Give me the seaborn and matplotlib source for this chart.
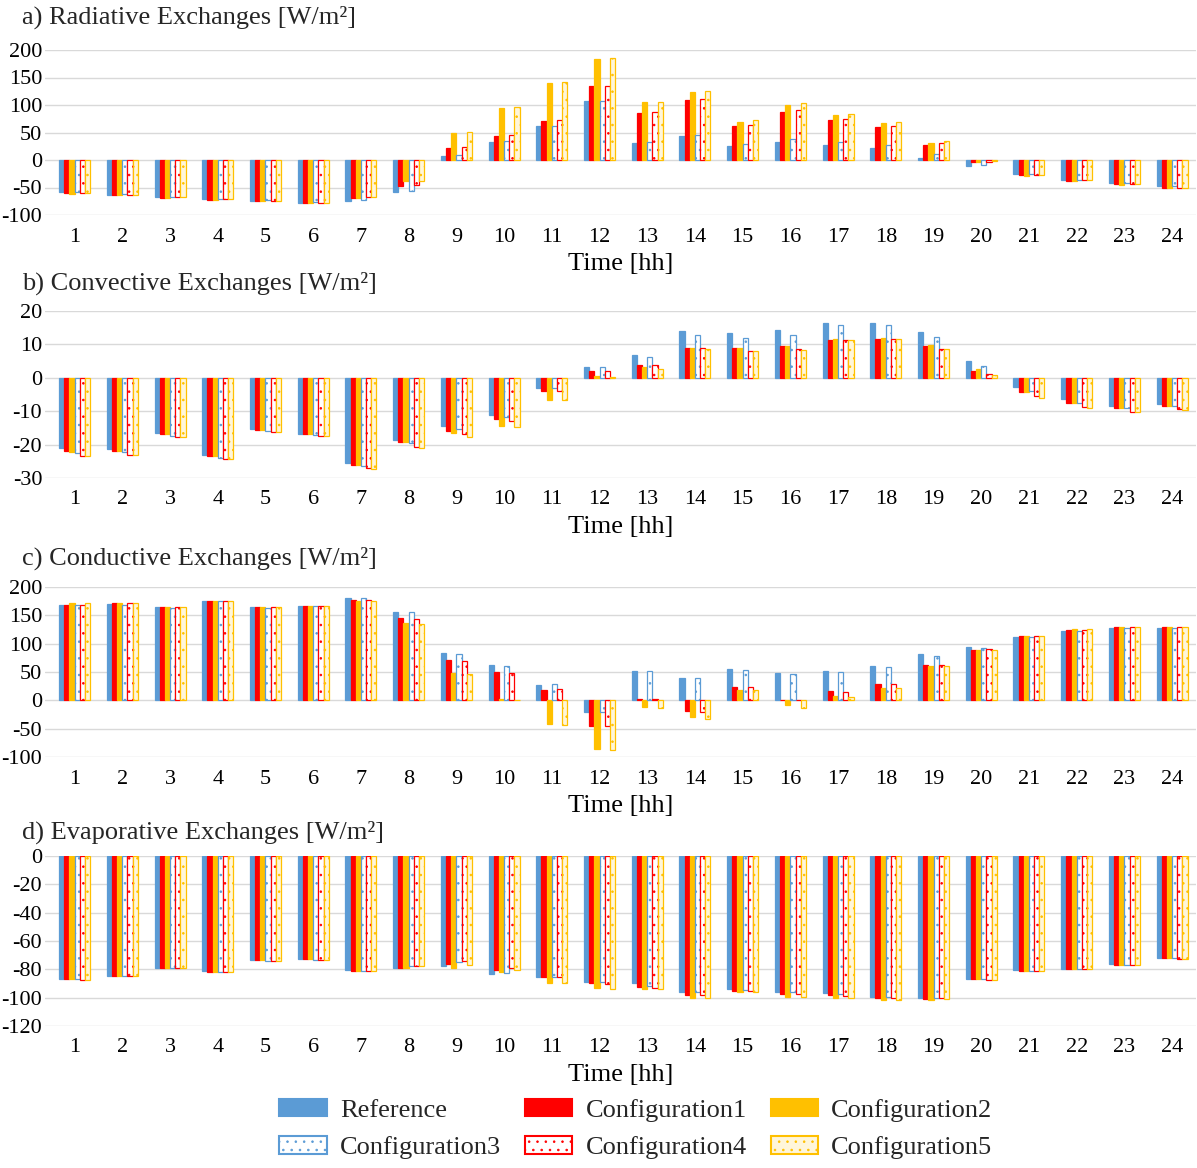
import pandas as pd
import seaborn as sns
import matplotlib.pyplot as plt
from matplotlib.patches import Patch

# Hours and series
hours = list(range(1, 25))
series = ['Reference', 'Configuration1', 'Configuration2',
          'Configuration3', 'Configuration4', 'Configuration5']

# a) Radiative exchanges [W/m2]
rad_ref = [-59, -63, -68, -71, -74, -78, -74, -58, 7, 33, 61, 107, 31, 43, 26, 33, 28, 22, 4, -11, -26, -36, -42, -48]
rad_c1 = [-60, -64, -69, -72, -75, -78, -69, -47, 21, 44, 71, 134, 86, 109, 62, 88, 72, 60, 28, -4, -28, -38, -44, -50]
rad_c2 = [-61, -64, -69, -72, -75, -78, -69, -38, 49, 95, 140, 183, 105, 123, 69, 100, 81, 67, 31, -3, -29, -39, -45, -50]
rad_c3 = [-58, -62, -67, -70, -73, -77, -73, -57, 9, 35, 61, 108, 33, 45, 29, 38, 33, 28, 11, -9, -26, -36, -42, -48]
rad_c4 = [-60, -63, -68, -71, -74, -78, -68, -46, 23, 45, 72, 135, 88, 111, 64, 91, 75, 62, 31, -3, -27, -37, -43, -50]
rad_c5 = [-60, -64, -68, -71, -74, -78, -67, -38, 51, 97, 142, 186, 105, 125, 72, 104, 83, 69, 34, -2, -28, -37, -43, -50]

# b) Convective exchanges [W/m2]
conv_ref = [-21.0, -21.2, -16.4, -23.0, -15.3, -16.7, -25.4, -18.6, -14.5, -11.2, -3.1, 3.2, 6.7, 14.0, 13.4, 14.4, 16.5, 16.5, 13.8, 4.9, -2.7, -6.4, -8.3, -7.9]
conv_c1 = [-22.0, -21.8, -16.9, -23.5, -15.5, -16.9, -26.0, -19.3, -16.0, -12.3, -3.9, 1.9, 3.9, 9.0, 8.8, 9.4, 11.2, 11.6, 9.4, 2.1, -4.3, -7.5, -9.1, -8.5]
conv_c2 = [-22.2, -21.8, -16.9, -23.5, -15.5, -16.9, -26.1, -19.3, -16.6, -14.3, -6.6, 0.5, 3.1, 9.0, 8.8, 9.4, 11.6, 11.9, 9.9, 2.5, -4.2, -7.5, -9.1, -8.5]
conv_c3 = [-22.5, -22.2, -17.4, -24.0, -15.9, -17.2, -26.5, -19.5, -15.3, -11.6, -3.1, 3.1, 6.2, 12.9, 11.9, 12.9, 15.7, 15.7, 12.2, 3.5, -4.1, -7.5, -9.0, -8.5]
conv_c4 = [-23.3, -23.0, -17.8, -24.3, -16.1, -17.5, -27.0, -20.6, -16.9, -12.8, -4.1, 2.0, 3.9, 8.9, 8.1, 8.6, 11.2, 11.6, 8.7, 1.2, -5.5, -8.7, -10.1, -9.3]
conv_c5 = [-23.5, -23.2, -17.8, -24.4, -16.2, -17.5, -27.2, -20.9, -17.6, -14.7, -6.6, 0.2, 2.7, 8.5, 7.9, 8.4, 11.2, 11.5, 8.5, 0.8, -6.0, -9.0, -10.1, -9.5]

# c) Conductive exchanges [W/m2]
cond_ref = [168, 170, 164, 175, 164, 167, 181, 156, 84, 62, 27, -20, 52, 39, 56, 48, 52, 60, 81, 94, 111, 123, 128, 128]
cond_c1 = [169, 171, 164, 176, 164, 167, 177, 146, 71, 50, 19, -45, 3, -18, 24, 0, 16, 29, 63, 89, 113, 124, 130, 130]
cond_c2 = [171, 172, 165, 176, 165, 167, 176, 137, 49, 2, -42, -86, -12, -30, 18, -9, 8, 22, 60, 89, 114, 126, 130, 130]
cond_c3 = [168, 169, 163, 175, 163, 166, 181, 155, 82, 61, 29, -20, 52, 39, 54, 47, 50, 58, 79, 93, 111, 122, 128, 128]
cond_c4 = [169, 171, 164, 176, 164, 167, 177, 144, 69, 49, 20, -45, 3, -20, 24, 0, 14, 29, 63, 90, 114, 124, 130, 130]
cond_c5 = [171, 172, 164, 176, 165, 167, 175, 135, 46, 1, -43, -87, -14, -33, 18, -13, 6, 21, 60, 89, 114, 126, 130, 130]

# d) Evaporative exchanges [W/m2]
evap_ref = [-86.8, -84.7, -78.8, -81.4, -73.6, -72.7, -80.7, -78.8, -77.6, -83.3, -85.2, -88.7, -89.6, -95.8, -93.9, -95.8, -97.0, -99.3, -100.5, -87.0, -80.7, -79.5, -76.5, -72.2]
evap_c1 = [-87.0, -85.0, -79.0, -81.9, -73.6, -72.7, -81.2, -78.8, -76.0, -80.2, -85.6, -89.9, -92.2, -98.1, -95.0, -97.2, -98.1, -100.5, -101.0, -87.0, -81.2, -80.0, -76.8, -72.2]
evap_c2 = [-87.0, -85.0, -79.0, -81.9, -73.6, -72.9, -81.2, -79.3, -79.3, -81.9, -89.9, -93.4, -93.9, -100.0, -95.8, -99.3, -100.0, -101.4, -101.4, -87.0, -81.2, -80.0, -76.8, -72.2]
evap_c3 = [-87.0, -85.0, -79.0, -81.6, -74.1, -73.4, -81.2, -77.6, -74.6, -82.4, -85.4, -88.7, -92.0, -95.8, -94.4, -95.8, -97.4, -99.3, -100.5, -87.0, -81.2, -80.0, -76.8, -72.2]
evap_c4 = [-87.5, -85.0, -79.0, -81.9, -74.1, -73.4, -81.2, -77.4, -73.9, -78.8, -85.6, -90.0, -93.0, -98.0, -95.3, -97.2, -98.6, -100.5, -100.5, -87.5, -81.4, -80.0, -77.2, -72.7]
evap_c5 = [-87.5, -85.0, -79.0, -82.0, -74.1, -73.4, -81.2, -77.9, -77.2, -80.7, -89.9, -94.0, -94.0, -100.0, -95.8, -99.3, -100.0, -101.4, -101.0, -87.5, -81.4, -80.0, -77.2, -72.7]

panels = [
    ('a) Radiative Exchanges [W/m²]', [rad_ref, rad_c1, rad_c2, rad_c3, rad_c4, rad_c5], (-100, 200), 50),
    ('b) Convective Exchanges [W/m²]', [conv_ref, conv_c1, conv_c2, conv_c3, conv_c4, conv_c5], (-30, 20), 10),
    ('c) Conductive Exchanges [W/m²]', [cond_ref, cond_c1, cond_c2, cond_c3, cond_c4, cond_c5], (-100, 200), 50),
    ('d) Evaporative Exchanges [W/m²]', [evap_ref, evap_c1, evap_c2, evap_c3, evap_c4, evap_c5], (-120, 0), 20),
]

# Bar styles per series (face, edge, hatch)
blue, red, gold = '#5B9BD5', '#FF0000', '#FFC000'
styles = {
    'Reference': (blue, blue, None),
    'Configuration1': (red, red, None),
    'Configuration2': (gold, gold, None),
    'Configuration3': ('white', blue, '..'),
    'Configuration4': ('white', red, '..'),
    'Configuration5': ('#FFF6DA', gold, '..'),
}

sns.set_theme(style='white')
plt.rcParams['font.family'] = ['Liberation Serif', 'DejaVu Serif']
plt.rcParams['axes.unicode_minus'] = False
plt.rcParams['hatch.linewidth'] = 0.6

fig = plt.figure(figsize=(11.97, 11.68), dpi=100)

# axes rectangles in pixels: top, bottom
H, W = 1168, 1197
ax_rows = [(50, 215), (311, 478), (587, 757), (856, 1026)]
title_y = [17, 283, 558, 832]
left, right = 45, 1196

for (title, vals, ylim, step), (top, bot), ty in zip(panels, ax_rows, title_y):
    ax = fig.add_axes([left / W, 1 - bot / H, (right - left) / W, (bot - top) / H])
    df = pd.DataFrame({
        'hour': hours * len(series),
        'value': [v for s in vals for v in s],
        'series': [name for name in series for _ in hours],
    })
    sns.barplot(data=df, x='hour', y='value', hue='series', hue_order=series,
                palette=[styles[s][1] for s in series], saturation=1,
                width=0.65, errorbar=None, legend=False, ax=ax)
    for cont, name in zip(ax.containers, series):
        fc, ec, hatch = styles[name]
        for bar in cont:
            bar.set_facecolor(fc)
            bar.set_edgecolor(ec)
            bar.set_linewidth(0.9)
            if hatch:
                bar.set_hatch(hatch)

    ax.set_xlim(-0.62, 23.5)
    ax.set_ylim(*ylim)
    ax.set_yticks(range(ylim[0], ylim[1] + 1, step))
    ax.grid(axis='y', color='#D9D9D9', linewidth=1)
    ax.set_axisbelow(True)
    for sp in ax.spines.values():
        sp.set_visible(False)
    ax.tick_params(axis='both', length=0, labelsize=16, labelcolor='black')
    ax.tick_params(axis='x', pad=9)
    ax.tick_params(axis='y', pad=2)
    ax.set_xlabel('Time [hh]', fontsize=19, labelpad=5, color='black')
    ax.set_ylabel('')
    fig.text(22 / W, 1 - ty / H, title, fontsize=19, ha='left', va='center')

# Legend
handles = [Patch(facecolor=styles[s][0], edgecolor=styles[s][1],
                 hatch=styles[s][2], linewidth=1.5, label=s) for s in series]
order = [0, 3, 1, 4, 2, 5]
fig.legend([handles[i] for i in order], [series[i] for i in order],
           loc='center', bbox_to_anchor=(636 / W, 1 - 1129 / H), ncol=3,
           frameon=False, fontsize=19, handlelength=1.8, handleheight=0.65,
           handletextpad=0.5, columnspacing=0.9, labelspacing=0.55)

plt.savefig('out.png', dpi=100)
